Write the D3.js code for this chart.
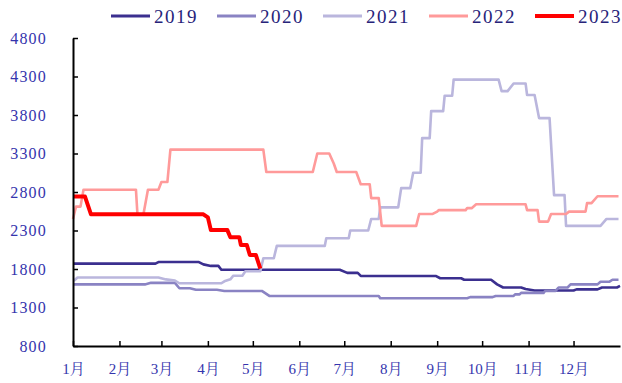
<!DOCTYPE html>
<html>
<head>
<meta charset="utf-8">
<script src="https://cdn.jsdelivr.net/npm/d3@7"></script>
<style>
  html, body { margin: 0; padding: 0; background: #fff; }
  svg { display: block; }
</style>
</head>
<body>
<svg id="chart" width="622" height="383"></svg>
<script>
// Price by day of year (day 0 = 1 Jan), one pair of arrays per year
const days2019 = [0, 55, 57, 84, 87, 92, 97, 99, 178, 183, 190, 192, 242, 245, 259, 261, 279, 283, 287, 299, 302, 308, 334, 336, 350, 353, 363, 365];
const values2019 = [1870, 1870, 1890, 1890, 1860, 1840, 1840, 1790, 1790, 1750, 1750, 1710, 1710, 1680, 1680, 1660, 1660, 1600, 1560, 1560, 1540, 1520, 1520, 1535, 1535, 1560, 1560, 1580];

const days2020 = [0, 48, 52, 68, 71, 78, 82, 96, 101, 126, 131, 204, 205, 263, 265, 280, 282, 294, 295, 298, 299, 314, 315, 322, 324, 330, 332, 350, 352, 358, 360, 364];
const values2020 = [1600, 1600, 1620, 1620, 1550, 1550, 1530, 1530, 1515, 1515, 1450, 1450, 1420, 1420, 1435, 1435, 1450, 1450, 1470, 1470, 1490, 1490, 1515, 1515, 1560, 1560, 1600, 1600, 1635, 1635, 1660, 1660];

const days2021 = [0, 1, 3, 57, 62, 68, 71, 99, 101, 105, 107, 113, 115, 125, 127, 134, 136, 168, 169, 184, 185, 197, 199, 204, 205, 217, 219, 225, 227, 232, 233, 238, 239, 247, 248, 253, 254, 284, 286, 290, 294, 302, 303, 308, 311, 318, 321, 328, 329, 352, 356, 364];
const values2021 = [1655, 1655, 1690, 1690, 1665, 1650, 1615, 1615, 1640, 1666, 1713, 1713, 1770, 1770, 1940, 1940, 2100, 2100, 2200, 2200, 2300, 2300, 2450, 2450, 2600, 2600, 2850, 2850, 3050, 3050, 3500, 3500, 3850, 3850, 4050, 4050, 4260, 4260, 4110, 4110, 4210, 4210, 4060, 4060, 3760, 3760, 2760, 2760, 2360, 2360, 2450, 2450];

const days2022 = [0, 2, 5, 7, 42, 43, 47, 50, 57, 59, 63, 65, 127, 129, 160, 163, 171, 174, 176, 189, 192, 198, 199, 204, 206, 229, 231, 240, 243, 244, 262, 263, 266, 269, 302, 303, 310, 311, 317, 319, 329, 331, 342, 343, 346, 350, 364];
const values2022 = [2450, 2610, 2610, 2830, 2830, 2510, 2510, 2830, 2830, 2930, 2930, 3350, 3350, 3060, 3060, 3300, 3300, 3170, 3060, 3060, 2900, 2900, 2720, 2720, 2360, 2360, 2515, 2515, 2545, 2565, 2565, 2590, 2590, 2640, 2640, 2565, 2565, 2415, 2415, 2515, 2515, 2545, 2545, 2655, 2655, 2745, 2745];

const days2023 = [0, 8, 12, 87, 90, 92, 103, 105, 111, 112, 116, 118, 122, 125];
const values2023 = [2740, 2740, 2510, 2510, 2470, 2305, 2305, 2212, 2212, 2112, 2112, 1982, 1982, 1805];

const seriesNames = ["2019", "2020", "2021", "2022", "2023"];
const seriesDays = [days2019, days2020, days2021, days2022, days2023];
const seriesValues = [values2019, values2020, values2021, values2022, values2023];
const seriesColors = ["#3b2f8f", "#8a83c3", "#bab6dd", "#ff9a9a", "#ff0000"];
const seriesWidths = [2.6, 2.6, 2.6, 2.6, 4];

const yTicks = [800, 1300, 1800, 2300, 2800, 3300, 3800, 4300, 4800];
const monthStarts = [0, 31, 59, 90, 120, 151, 181, 212, 243, 273, 304, 334];
const monthLabels = ["1月", "2月", "3月", "4月", "5月", "6月", "7月", "8月", "9月", "10月", "11月", "12月"];

const svg = d3.select("#chart");
const plotLeft = 73, plotRight = 620, plotTop = 38, plotBottom = 346;

const x = d3.scaleLinear().domain([0, 365]).range([plotLeft, plotRight]);
const y = d3.scaleLinear().domain([800, 4800]).range([plotBottom, plotTop]);

const labelFont = "'Liberation Serif', 'Times New Roman', 'Noto Serif CJK SC', 'Noto Sans CJK SC', serif";

// Series lines
const line = d3.line().x(d => x(d[0])).y(d => y(d[1]));
seriesNames.forEach((name, i) => {
  const pts = seriesDays[i].map((d, j) => [d, seriesValues[i][j]]);
  svg.append("path")
    .datum(pts)
    .attr("fill", "none")
    .attr("stroke", seriesColors[i])
    .attr("stroke-width", seriesWidths[i])
    .attr("stroke-linejoin", "round")
    .attr("d", line);
});

// Y axis
const yAxis = svg.append("g")
  .attr("transform", `translate(${plotLeft},0)`)
  .call(d3.axisLeft(y).tickValues(yTicks).tickFormat(d3.format("d"))
    .tickSize(-5).tickPadding(26).tickSizeOuter(0));
yAxis.select(".domain").attr("stroke", "#000").attr("stroke-width", 2);
yAxis.selectAll(".tick line").attr("stroke", "#000").attr("stroke-width", 1.5);
yAxis.selectAll(".tick text")
  .attr("fill", "#3434ad")
  .style("font-family", labelFont)
  .style("font-size", "16px")
  .style("letter-spacing", "1.2px");

// X axis
const xAxis = svg.append("g")
  .attr("transform", `translate(0,${plotBottom})`)
  .call(d3.axisBottom(x).tickValues(monthStarts).tickSize(-5).tickPadding(17).tickSizeOuter(0)
    .tickFormat((d, i) => monthLabels[i]));
xAxis.select(".domain").attr("stroke", "#000").attr("stroke-width", 2);
xAxis.selectAll(".tick line").attr("stroke", "#000").attr("stroke-width", 1.5);
xAxis.selectAll(".tick text")
  .attr("fill", "#3434ad")
  .style("font-family", labelFont)
  .style("font-size", "15px");

// Legend
const legendX = [111, 217, 323, 429, 535];
const legend = svg.append("g");
seriesNames.forEach((name, i) => {
  legend.append("line")
    .attr("x1", legendX[i]).attr("x2", legendX[i] + 39)
    .attr("y1", 16).attr("y2", 16)
    .attr("stroke", seriesColors[i])
    .attr("stroke-width", i === 4 ? 4 : 3);
  legend.append("text")
    .attr("x", legendX[i] + 43)
    .attr("y", 23)
    .attr("fill", "#27237a")
    .style("font-family", labelFont)
    .style("font-size", "19px")
    .style("letter-spacing", "1.5px")
    .text(name);
});
</script>
</body>
</html>
